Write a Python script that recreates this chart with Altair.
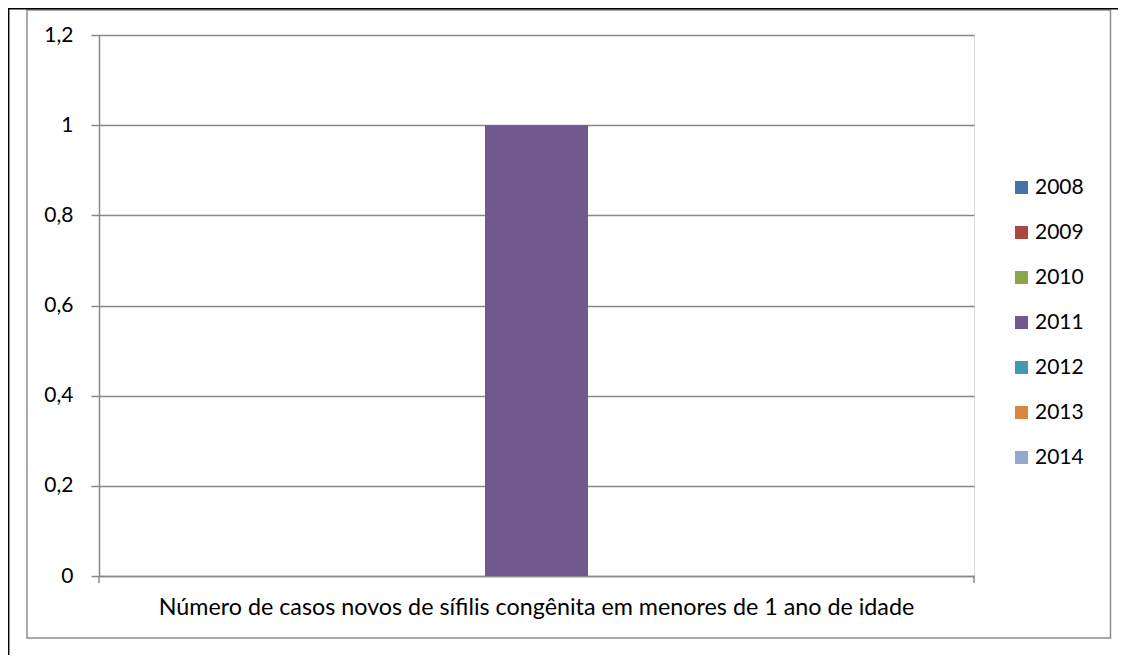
import altair as alt
import pandas as pd

category = ["Número de casos novos de sífilis congênita em menores de 1 ano de idade"]
years = ["2008", "2009", "2010", "2011", "2012", "2013", "2014"]
values = [0, 0, 0, 1, 0, 0, 0]
colors = ["#4572A7", "#AA4643", "#89A54E", "#71588F", "#4198AF", "#DB843D", "#93A9CF"]
y_ticks = [0, 0.2, 0.4, 0.6, 0.8, 1.0, 1.2]

df = pd.DataFrame({"cat": category * len(years), "ano": years, "valor": values})

W, H = 875, 541
FONT = "Lato"
GRID = "#898989"

bars = alt.Chart(df).mark_bar(size=103).encode(
    x=alt.X("cat:N", title=None,
            scale=alt.Scale(domain=category, paddingInner=0, paddingOuter=0.1068),
            axis=alt.Axis(labelAngle=0, ticks=False, domain=True, domainColor=GRID,
                          domainWidth=1.5, labelPadding=20, labelFontSize=23.3,
                          labelLimit=2000,
                          labelFont=FONT, labelColor="#000000", grid=False)),
    xOffset=alt.XOffset("ano:N", scale=alt.Scale(domain=years, paddingInner=0, paddingOuter=0)),
    y=alt.Y("valor:Q", title=None,
            scale=alt.Scale(domain=[0, 1.2], nice=False),
            axis=alt.Axis(values=y_ticks, grid=True, gridColor=GRID, gridWidth=1.5,
                          domain=True, domainColor=GRID, domainWidth=1.5,
                          ticks=True, tickSize=8, tickColor=GRID, tickWidth=1.5,
                          labelPadding=18, labelFontSize=21, labelFont=FONT,
                          labelColor="#000000",
                          labelExpr="replace(format(datum.value, '.1~f'), '.', ',')")),
    color=alt.Color("ano:N", scale=alt.Scale(domain=years, range=colors),
                    legend=alt.Legend(title=None, orient="none", legendX=912, legendY=142,
                                      symbolType="square", symbolSize=169,
                                      symbolStrokeWidth=0, labelFontSize=21,
                                      labelFont=FONT, labelColor="#000000",
                                      labelOffset=3, rowPadding=23, padding=0)),
)

one = pd.DataFrame({"k": [0]})

tick_left = alt.Chart(one).mark_rule(color=GRID, strokeWidth=1.5).encode(
    x=alt.value(0), y=alt.value(H), y2=alt.value(H + 7))
tick_right = alt.Chart(one).mark_rule(color=GRID, strokeWidth=1.5).encode(
    x=alt.value(W), y=alt.value(H), y2=alt.value(H + 7))

border = alt.Chart(one).mark_rect(fill=None, stroke="#8E8E8E", strokeWidth=1.5).encode(
    x=alt.value(-72), x2=alt.value(1011.5), y=alt.value(-25), y2=alt.value(603))

black_top = alt.Chart(one).mark_rule(color="#000000", strokeWidth=1.5).encode(
    x=alt.value(-91), x2=alt.value(1019), y=alt.value(-26.3))
black_left = alt.Chart(one).mark_rule(color="#000000", strokeWidth=1.5).encode(
    x=alt.value(-90.3), y=alt.value(-27), y2=alt.value(620))

chart = alt.layer(bars, tick_left, tick_right, border, black_top, black_left).properties(
    width=W, height=H,
    autosize=alt.AutoSizeParams(type="none"),
    padding={"left": 91, "top": 27, "right": 144, "bottom": 79},
).configure_view(stroke=None).configure(background="#ffffff")

chart.save("out.html", embed_options={"renderer": "svg", "actions": False})
